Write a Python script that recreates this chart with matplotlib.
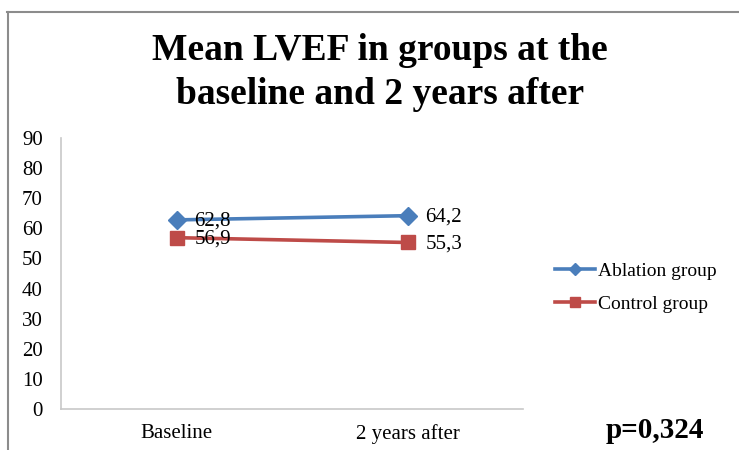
import matplotlib.pyplot as plt
from matplotlib.lines import Line2D

categories = ["Baseline", "2 years after"]
ablation = [62.8, 64.2]
control = [56.9, 55.3]
ablation_labels = ["62,8", "64,2"]
control_labels = ["56,9", "55,3"]
yticks = [0, 10, 20, 30, 40, 50, 60, 70, 80, 90]

plt.rcParams["font.family"] = ["Liberation Serif", "DejaVu Serif"]

W, H = 739, 450
fig = plt.figure(figsize=(W / 100, H / 100), dpi=100)

# outer chart-area border (only top and left visible)
fig.add_artist(Line2D([7 / W, 1], [1 - 12 / H, 1 - 12 / H], color="#8c8c8c", lw=1.5))
fig.add_artist(Line2D([8 / W, 8 / W], [0, 1 - 12 / H], color="#8c8c8c", lw=1.5))

ax = fig.add_axes([61 / W, 1 - 409 / H, (523 - 61) / W, (409 - 138) / H])
x = list(range(len(categories)))

blue, red = "#4A7EBB", "#BE4B48"
ax.plot(x, ablation, color=blue, lw=2.6, marker="D", ms=9, zorder=3)
ax.plot(x, control, color=red, lw=2.6, marker="s", ms=10, zorder=3)

for xi, v, t in zip(x, ablation, ablation_labels):
    ax.annotate(t, (xi, v), xytext=(13, -1), textcoords="offset points",
                ha="left", va="center", fontsize=15, color="#000000", zorder=4)
for xi, v, t in zip(x, control, control_labels):
    ax.annotate(t, (xi, v), xytext=(13, -1), textcoords="offset points",
                ha="left", va="center", fontsize=15, color="#000000", zorder=4)

ax.set_xlim(-0.5, 1.5)
ax.set_ylim(0, 90)
ax.set_yticks(yticks)
ax.set_xticks(x)
ax.set_xticklabels(categories)
ax.tick_params(axis="both", length=0, labelsize=15)
ax.tick_params(axis="y", pad=13)
ax.tick_params(axis="x", pad=11)
for s in ["top", "right"]:
    ax.spines[s].set_visible(False)
for s in ["left", "bottom"]:
    ax.spines[s].set_color("#c8c8c8")
    ax.spines[s].set_linewidth(1.2)

fig.text(0.5 * (155 + 605) / W, 1 - 51 / H, "Mean LVEF in groups at the",
         ha="center", va="center", fontsize=27, fontweight="bold")
fig.text(0.5 * (155 + 605) / W, 1 - 95 / H, "baseline and 2 years after",
         ha="center", va="center", fontsize=27, fontweight="bold")

handles = [
    Line2D([], [], color=blue, lw=2.6, marker="D", ms=6),
    Line2D([], [], color=red, lw=2.6, marker="s", ms=7),
]
fig.legend(handles, ["Ablation group", "Control group"], loc="upper left",
           bbox_to_anchor=(537 / W, 1 - 245 / H), frameon=False, fontsize=14,
           handlelength=2.1, handletextpad=0.15, labelspacing=0.8)

fig.text(606 / W, 1 - 430 / H, "p=0,324", ha="left", va="center",
         fontsize=21, fontweight="bold")

fig.savefig("out.png", dpi=100)
